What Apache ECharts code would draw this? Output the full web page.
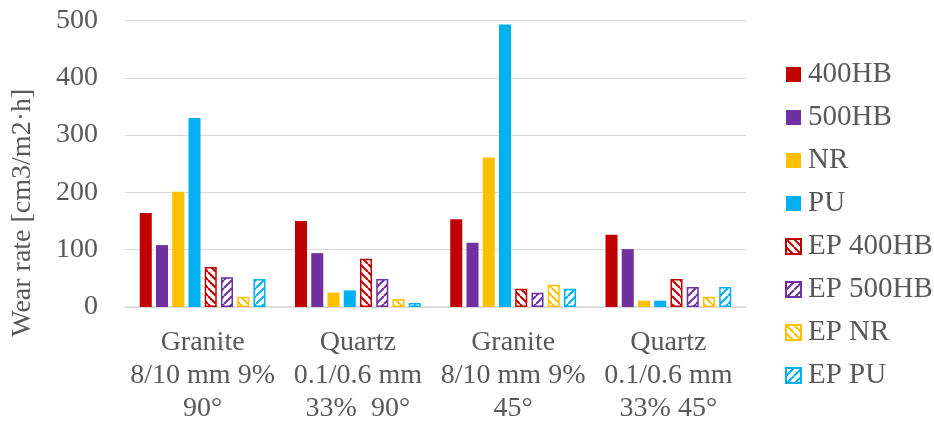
<!DOCTYPE html>
<html><head><meta charset="utf-8">
<script src="https://cdn.jsdelivr.net/npm/echarts@6/dist/echarts.min.js"></script>
<style>html,body{margin:0;padding:0;background:#fff}#c{width:934px;height:425px}</style>
</head><body><div id="c"></div>
<script>
const categories = ["Granite\n8/10 mm 9%\n90°", "Quartz\n0.1/0.6 mm\n33%  90°", "Granite\n8/10 mm 9%\n45°", "Quartz\n0.1/0.6 mm\n33% 45°"];
const yTicks = [0, 100, 200, 300, 400, 500];
const s400HB = [164, 150, 153, 126];
const s500HB = [108, 94, 112, 101];
const sNR = [201, 25, 261, 11];
const sPU = [330, 29, 493, 11];
const sEP400HB = [70, 84, 32, 49];
const sEP500HB = [52, 49, 25, 35];
const sEPNR = [18, 14, 39, 18];
const sEPPU = [49, 7, 32, 35];

function stripes(color, dir) {
  const n = 8;
  const c = document.createElement('canvas');
  c.width = n; c.height = n;
  const g = c.getContext('2d');
  g.fillStyle = '#fff'; g.fillRect(0, 0, n, n);
  g.strokeStyle = color; g.lineWidth = 2;
  for (let k = -1; k <= 1; k++) {
    g.beginPath();
    if (dir === '\\') { g.moveTo(k * n, 0); g.lineTo(k * n + n, n); }
    else { g.moveTo(k * n, n); g.lineTo(k * n + n, 0); }
    g.stroke();
  }
  return { image: c, repeat: 'repeat' };
}

const font = '"Liberation Serif", "Times New Roman", serif';
const txt = '#595959';
function solid(name, data, color) {
  return { name, type: 'bar', data, itemStyle: { color }, barGap: '35%', barCategoryGap: '19%' };
}
function hatched(name, data, color, dir) {
  return { name, type: 'bar', data, itemStyle: { color: stripes(color, dir), borderColor: color, borderWidth: 1.5 }, barGap: '35%', barCategoryGap: '19%' };
}
const chart = echarts.init(document.getElementById('c'), null, { renderer: 'canvas' });
chart.setOption({
  animation: false,
  grid: { left: 125, right: 188, top: 20.5, bottom: 117.5 },
  legend: {
    orient: 'vertical', left: 785, top: 60, padding: 0, itemWidth: 15, itemHeight: 15, itemGap: 14,
    icon: 'rect',
    textStyle: { fontFamily: font, fontSize: 29, color: txt, lineHeight: 28, padding: [0, 0, 0, 2] },
    data: ['400HB', '500HB', 'NR', 'PU', 'EP 400HB', 'EP 500HB', 'EP NR', 'EP PU']
  },
  xAxis: {
    type: 'category', data: categories,
    axisLine: { lineStyle: { color: '#D9D9D9', width: 1.5 } },
    axisTick: { show: false },
    axisLabel: { fontFamily: font, fontSize: 28, color: txt, lineHeight: 33, margin: 19, interval: 0 }
  },
  yAxis: {
    type: 'value', min: yTicks[0], max: yTicks[yTicks.length - 1], interval: 100,
    name: 'Wear rate [cm3/m2·h]', nameLocation: 'middle', nameGap: 88,
    nameTextStyle: { fontFamily: font, fontSize: 28, color: txt, padding: [0, 98, 0, 0] },
    axisLine: { show: false }, axisTick: { show: false },
    axisLabel: { fontFamily: font, fontSize: 28, color: txt, margin: 27 },
    splitLine: { lineStyle: { color: '#D9D9D9', width: 1 } }
  },
  series: [
    solid('400HB', s400HB, '#C00000'),
    solid('500HB', s500HB, '#7030A0'),
    solid('NR', sNR, '#FFC000'),
    solid('PU', sPU, '#00B0F0'),
    hatched('EP 400HB', sEP400HB, '#C00000', '\\'),
    hatched('EP 500HB', sEP500HB, '#7030A0', '/'),
    hatched('EP NR', sEPNR, '#FFC000', '\\'),
    hatched('EP PU', sEPPU, '#00B0F0', '/')
  ]
});
</script></body></html>
